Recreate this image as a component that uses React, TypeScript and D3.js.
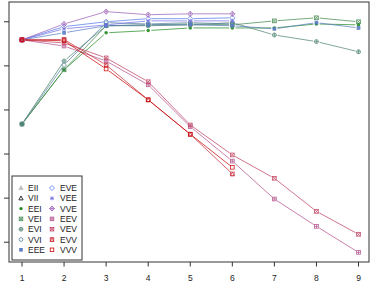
import React, { useEffect, useRef } from 'react';
import * as d3 from 'd3'

// number of mixture components
const components = [1, 2, 3, 4, 5, 6, 7, 8, 9]

const models = ['EII', 'VII', 'EEI', 'VEI', 'EVI', 'VVI', 'EEE', 'EVE', 'VEE', 'VVE', 'EEV', 'VEV', 'EVV', 'VVV']

const modelColors = ['#bebebe', '#000000', '#218B21', '#41884F', '#508476', '#58819C', '#597DC3',
  '#5178EA', '#716EE7', '#9B60B8', '#B2508B', '#C03F60', '#C82A36', '#CC0000']

const modelShapes = ['triFill', 'tri', 'dot', 'squareX', 'circlePlus', 'circle', 'squareFill',
  'diamond', 'asterisk', 'diamondPlus', 'squarePlus', 'squareX', 'squareTri', 'square']

// BIC by number of components (models not fitted are left empty)
const bicEII: number[] = []
const bicVII: number[] = []
const bicEEI = [-3160, -2545, -2125, -2100, -2070, -2070, -2070, -2025, -2035]
const bicVEI = [-3160, -2545, -2045, -2035, -2025, -2035, -1990, -1955, -2000]
const bicEVI = [-3160, -2445, -2045, -2045, -2035, -2010, -2150, -2225, -2340]
const bicVVI = [-3160, -2490, -2010, -2025, -2010, -2025]
const bicEEE = [-2205, -2125, -2045, -2035, -2035, -2045, -2080, -2010, -2070]
const bicEVE = [-2205, -2055, -2000, -1965, -1965, -1955]
const bicVEE = [-2205, -2080, -2035, -1990, -1990, -1990]
const bicVVE = [-2205, -2025, -1885, -1920, -1910, -1910]
const bicEEV = [-2205, -2275, -2445, -2715, -3190, -3580, -4010, -4320, -4615]
const bicVEV = [-2205, -2240, -2410, -2680, -3170, -3510, -3775, -4150, -4410]
const bicEVV = [-2205, -2200, -2490, -2885, -3275, -3725]
const bicVVV = [-2205, -2215, -2535, -2885, -3275, -3650]

const bicValues = [bicEII, bicVII, bicEEI, bicVEI, bicEVI, bicVVI, bicEEE,
  bicEVE, bicVEE, bicVVE, bicEEV, bicVEV, bicEVV, bicVVV]

const yTicks = [-2000, -2500, -3000, -3500, -4000, -4500]

type Sel = d3.Selection<SVGGElement, unknown, null, undefined>

function drawSymbol(g: Sel, shape: string, cx: number, cy: number, r: number, color: string) {
  const s = g.append('g').attr('transform', `translate(${cx},${cy})`)
    .attr('stroke', color).attr('stroke-width', 0.8).attr('fill', 'none')
  const line = (x1: number, y1: number, x2: number, y2: number) =>
    s.append('line').attr('x1', x1).attr('y1', y1).attr('x2', x2).attr('y2', y2)
  const tri = `M0,${-r * 1.1}L${r},${r * 0.75}L${-r},${r * 0.75}Z`
  const dia = `M0,${-r * 1.2}L${r * 1.2},0L0,${r * 1.2}L${-r * 1.2},0Z`
  const q = r * 0.85
  switch (shape) {
    case 'triFill':
      s.append('path').attr('d', tri).attr('fill', color)
      break
    case 'tri':
      s.append('path').attr('d', tri)
      break
    case 'dot':
      s.append('circle').attr('r', r * 0.8).attr('fill', color).attr('stroke', 'none')
      break
    case 'circle':
      s.append('circle').attr('r', r * 0.9)
      break
    case 'circlePlus':
      s.append('circle').attr('r', r * 0.9)
      line(-r, 0, r, 0); line(0, -r, 0, r)
      break
    case 'squareFill':
      s.append('rect').attr('x', -q).attr('y', -q).attr('width', q * 2).attr('height', q * 2)
        .attr('fill', color).attr('stroke', 'none')
      break
    case 'square':
      s.append('rect').attr('x', -q).attr('y', -q).attr('width', q * 2).attr('height', q * 2)
      break
    case 'squareX':
      s.append('rect').attr('x', -q).attr('y', -q).attr('width', q * 2).attr('height', q * 2)
      line(-q, -q, q, q); line(-q, q, q, -q)
      break
    case 'squarePlus':
      s.append('rect').attr('x', -q).attr('y', -q).attr('width', q * 2).attr('height', q * 2)
      line(-q, 0, q, 0); line(0, -q, 0, q)
      break
    case 'squareTri':
      s.append('rect').attr('x', -q).attr('y', -q).attr('width', q * 2).attr('height', q * 2)
      s.append('path').attr('d', `M0,${-q}L${q},${q}L${-q},${q}Z`)
      break
    case 'diamond':
      s.append('path').attr('d', dia)
      break
    case 'diamondPlus':
      s.append('path').attr('d', dia)
      line(-r * 1.2, 0, r * 1.2, 0); line(0, -r * 1.2, 0, r * 1.2)
      break
    case 'asterisk':
      line(-r, 0, r, 0); line(0, -r, 0, r)
      line(-r * 0.75, -r * 0.75, r * 0.75, r * 0.75); line(-r * 0.75, r * 0.75, r * 0.75, -r * 0.75)
      break
  }
}

const BicPlot: React.FC = () => {
  const svgRef = useRef() as React.MutableRefObject<SVGSVGElement>

  useEffect(() => {
    const width = 375
    const height = 282
    const box = { left: 9, right: 369, top: 2, bottom: 262 }

    const svg = d3.select(svgRef.current)
    svg.html('')
    svg.attr('width', width).attr('height', height)

    const root = svg.append('g') as Sel

    const xScale = d3.scaleLinear().domain([1, 9]).range([22, 358.5])

    const all = bicValues.flat()
    const [lo, hi] = d3.extent(all) as [number, number]
    const pad = (hi - lo) * 0.04
    const yScale = d3.scaleLinear().domain([lo - pad, hi + pad]).range([box.bottom, box.top])

    // series: short segments with a gap around each point
    const gap = 3.2
    bicValues.forEach((vals, m) => {
      const color = modelColors[m]
      const g = root.append('g').attr('opacity', 0.9) as Sel
      const pts = vals.map((v, i) => [xScale(components[i]), yScale(v)])
      d3.pairs(pts).forEach(([a, b]) => {
        const dx = b[0] - a[0]
        const dy = b[1] - a[1]
        const len = Math.hypot(dx, dy)
        if (len < gap * 2) return
        const ux = dx / len
        const uy = dy / len
        g.append('line')
          .attr('x1', a[0] + ux * gap).attr('y1', a[1] + uy * gap)
          .attr('x2', b[0] - ux * gap).attr('y2', b[1] - uy * gap)
          .attr('stroke', color).attr('stroke-width', 0.8)
      })
      pts.forEach(p => drawSymbol(g, modelShapes[m], p[0], p[1], 2.2, color))
    })

    // frame
    root.append('rect')
      .attr('x', box.left).attr('y', box.top)
      .attr('width', box.right - box.left).attr('height', box.bottom - box.top)
      .attr('fill', 'none').attr('stroke', '#333').attr('stroke-width', 1)

    // x axis
    const xAxis = root.append('g')
    components.forEach(c => {
      xAxis.append('line')
        .attr('x1', xScale(c)).attr('x2', xScale(c))
        .attr('y1', box.bottom).attr('y2', box.bottom + 4.5)
        .attr('stroke', '#333')
      xAxis.append('text')
        .attr('x', xScale(c)).attr('y', 280.5)
        .attr('text-anchor', 'middle')
        .attr('font-family', 'Liberation Sans, Arial, sans-serif')
        .attr('font-size', 8.5)
        .attr('fill', '#222')
        .text(c)
    })

    // y axis ticks (labels fall outside the view)
    yTicks.forEach(t => {
      root.append('line')
        .attr('x1', box.left - 5).attr('x2', box.left)
        .attr('y1', yScale(t)).attr('y2', yScale(t))
        .attr('stroke', '#333')
    })

    // legend
    const legend = root.append('g') as Sel
    legend.append('rect')
      .attr('x', 12).attr('y', 176).attr('width', 70).attr('height', 84)
      .attr('fill', 'white').attr('stroke', '#333').attr('stroke-width', 1)
    models.forEach((name, i) => {
      const col = Math.floor(i / 7)
      const row = i % 7
      const cy = 188 + row * 10.3
      const sx = col === 0 ? 21 : 52
      drawSymbol(legend, modelShapes[i], sx, cy, 2.1, modelColors[i])
      legend.append('text')
        .attr('x', col === 0 ? 28 : 60).attr('y', cy + 3)
        .attr('font-family', 'Liberation Sans, Arial, sans-serif')
        .attr('font-size', 8.5)
        .attr('fill', '#222')
        .text(name)
    })
  }, [])

  return <svg ref={svgRef} style={{ position: 'absolute', left: 0, top: 0, display: 'block' }} />
}

export default function App() {
  return <BicPlot />
}
